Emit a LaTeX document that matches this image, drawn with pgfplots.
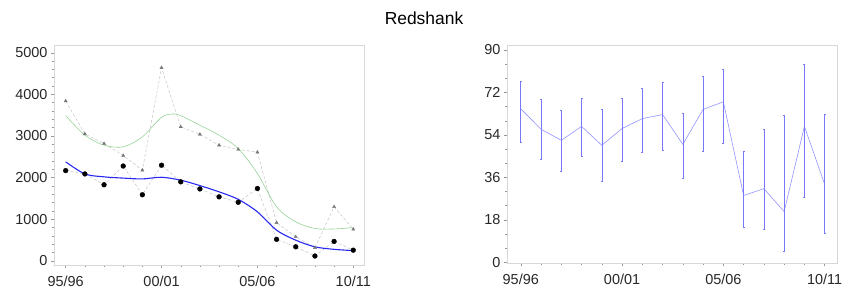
\documentclass[border=0pt]{standalone}
\usepackage{pgfplots}
\pgfplotsset{compat=1.18}
\usepackage{fontspec}
\setmainfont{Liberation Sans}
\definecolor{frame}{RGB}{215,215,215}
\definecolor{tickc}{RGB}{150,150,150}
\definecolor{lab}{RGB}{40,40,40}
\definecolor{trendb}{RGB}{40,40,240}
\definecolor{trendg}{RGB}{150,210,150}
\definecolor{errb}{RGB}{120,120,255}
\definecolor{dashg}{RGB}{190,190,190}
\definecolor{trig}{RGB}{120,120,120}
\begin{document}
\begin{tikzpicture}
\path[use as bounding box] (0,0) rectangle (848bp,294bp);
\node[font=\fontsize{17.5}{17.5}\selectfont, text=black] at (424bp,276bp) {Redshank};
\pgfplotsset{
  base/.style={
    scale only axis,
    axis line style={frame, line width=0.6bp},
    tick style={tickc, line width=0.4bp},
    major tick length=3bp, minor tick length=2bp,
    tick align=outside,
    xtick={0,5,10,15},
    xticklabels={95/96,00/01,05/06,10/11},
    minor xtick={0,...,15},
    xtick pos=bottom, ytick pos=left,
    ticklabel style={font=\fontsize{14.5}{14.5}\selectfont, text=lab},
    xticklabel style={yshift=-5bp},
    /pgf/number format/assume math mode=true,
    scaled y ticks=false,
    clip=false,
  }
}
\begin{axis}[base,
  at={(54bp,29bp)}, anchor=south west,
  width=310bp, height=220bp,
  xmin=-0.61, xmax=15.56, ymin=-96, ymax=5185,
  ytick={0,1000,2000,3000,4000,5000},
  minor y tick num=4,
  yticklabel style={/pgf/number format/1000 sep={}},
]
% dashed connections
\addplot[dashg, densely dashed, line width=0.45bp] coordinates {
(0,3840)(1,3050)(2,2820)(3,2530)(4,2180)(5,4640)(6,3220)(7,3040)(8,2780)(9,2680)(10,2610)(11,920)(12,580)(13,320)(14,1300)(15,760)};
\addplot[dashg, densely dashed, line width=0.45bp] coordinates {
(0,2170)(1,2090)(2,1830)(3,2280)(4,1590)(5,2300)(6,1900)(7,1730)(8,1540)(9,1410)(10,1740)(11,520)(12,340)(13,120)(14,470)(15,260)};
% trends
\addplot[trendg, line width=0.6bp, smooth] coordinates {
(0,3490)(1,3020)(2,2780)(3,2740)(4,2980)(5,3450)(5.6,3530)(6,3490)(7,3260)(8,3020)(9,2700)(10,2100)(11,1300)(12,940)(13,780)(14,770)(15,800)};
\addplot[trendb, line width=1.1bp, smooth] coordinates {
(0,2380)(1,2090)(2,2020)(3,1990)(4,1970)(5,2010)(6,1940)(7,1810)(8,1660)(9,1480)(10,1180)(11,740)(12,500)(13,340)(14,280)(15,250)};
% markers
\addplot[only marks, mark=triangle*, mark size=1.8bp, trig, fill=trig] coordinates {
(0,3840)(1,3050)(2,2820)(3,2530)(4,2180)(5,4640)(6,3220)(7,3040)(8,2780)(9,2680)(10,2610)(11,920)(12,580)(13,320)(14,1300)(15,760)};
\addplot[only marks, mark=*, mark size=2.4bp, black] coordinates {
(0,2170)(1,2090)(2,1830)(3,2280)(4,1590)(5,2300)(6,1900)(7,1730)(8,1540)(9,1410)(10,1740)(11,520)(12,340)(13,120)(14,470)(15,260)};
\end{axis}
\begin{axis}[base,
  at={(507bp,31bp)}, anchor=south west,
  width=330bp, height=218bp,
  xmin=-0.68, xmax=15.61, ymin=-0.3, ymax=92.1,
  ytick={0,18,36,54,72,90},
  minor y tick num=2,
]
\addplot[errb!80!white, line width=0.6bp, mark=none,
  error bars/.cd, y dir=both, y explicit,
  error bar style={color=errb, line width=0.6bp},
  error mark options={color=errb, mark size=1bp, rotate=90, line width=0.6bp}]
coordinates {
(0,65.0) +- (0,11.9) -= (0,14.0)
(1,56.4) +- (0,12.7) -= (0,12.9)
(2,51.7) +- (0,12.7) -= (0,13.3)
(3,57.6) +- (0,11.9) -= (0,12.5)
(4,49.6) +- (0,15.2) -= (0,15.4)
(5,56.7) +- (0,13.0) -= (0,14.0)
(6,60.9) +- (0,12.7) -= (0,14.4)
(7,62.6) +- (0,13.6) -= (0,15.3)
(8,50.0) +- (0,13.3) -= (0,14.3)
(9,64.8) +- (0,14.0) -= (0,17.8)
(10,68.0) +- (0,13.9) -= (0,17.7)
(11,28.3) +- (0,18.6) -= (0,13.6)
(12,31.2) +- (0,25.3) -= (0,17.2)
(13,21.5) +- (0,40.9) -= (0,16.7)
(14,57.6) +- (0,26.2) -= (0,29.9)
(15,33.1) +- (0,29.5) -= (0,20.7)
};
\end{axis}
\end{tikzpicture}
\end{document}
